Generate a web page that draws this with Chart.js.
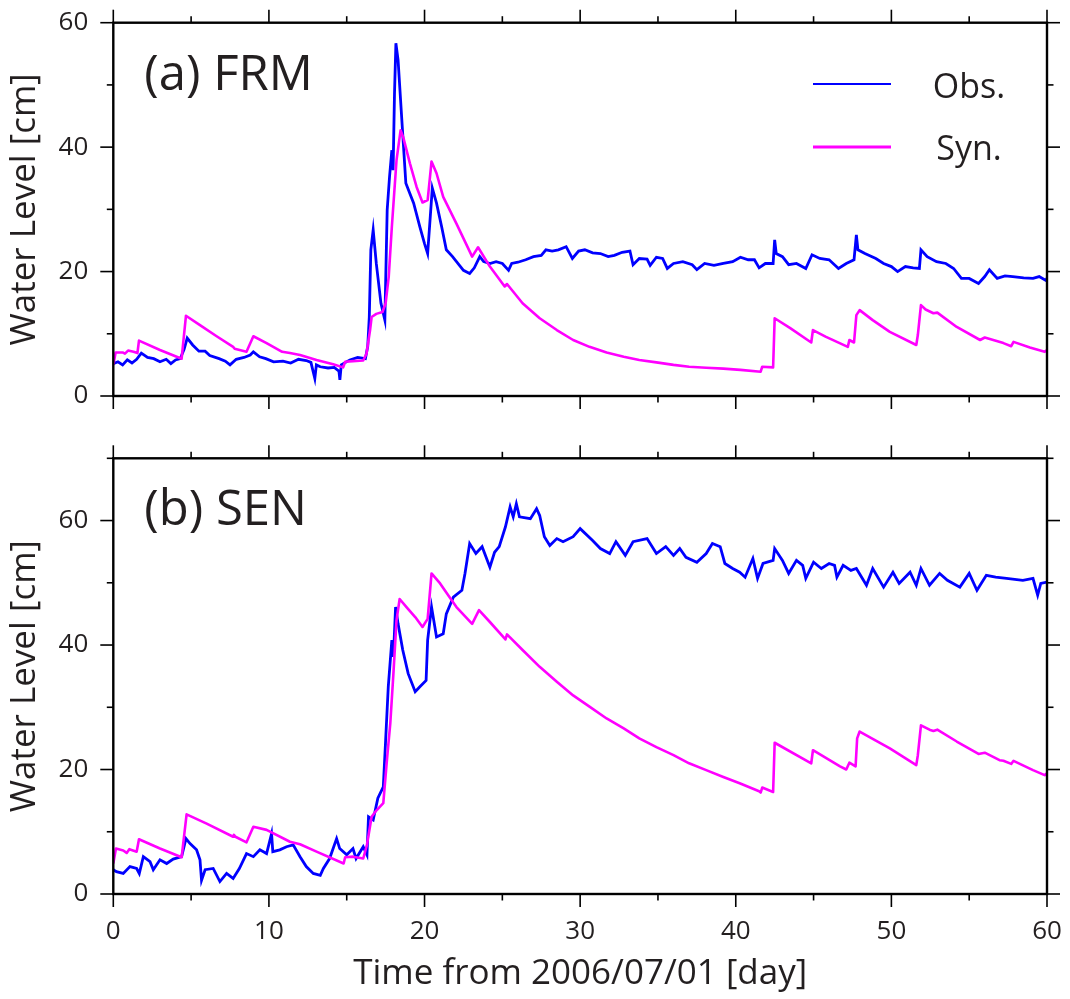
<!DOCTYPE html>
<html><head><meta charset="utf-8">
<script src="https://cdn.jsdelivr.net/npm/chart.js@4.4.1/dist/chart.umd.min.js"></script>
<style>
html,body{margin:0;padding:0;background:#fff;}
#wrap{position:relative;width:1070px;height:999px;overflow:hidden;}
canvas{position:absolute;left:0;}
#c1{top:0;} #c2{top:430px;}
</style></head><body>
<div id="wrap"><canvas id="c1" width="1070" height="430"></canvas><canvas id="c2" width="1070" height="569"></canvas></div>
<script>
// ---- data (day, water level cm) ----
const frmObsDay = [0,0.3,0.6,0.9,1.2,1.5,1.8,2.2,2.6,3.0,3.4,3.7,4.0,4.3,4.55,4.75,5.1,5.5,5.9,6.2,6.8,7.2,7.5,7.9,8.4,8.8,9.0,9.4,9.8,10.3,10.9,11.4,11.9,12.4,12.7,12.95,13.05,13.3,13.8,14.2,14.5,14.56,14.65,15.2,15.7,16.2,16.35,16.45,16.55,16.7,16.9,17.2,17.45,17.6,17.75,17.9,17.98,18.07,18.16,18.3,18.5,18.8,19.3,19.7,20.0,20.2,20.5,20.77,21.1,21.4,21.8,22.5,22.9,23.2,23.55,23.8,24.2,24.6,25.0,25.4,25.6,26.0,26.5,27.0,27.5,27.8,28.2,28.6,29.1,29.5,29.9,30.3,30.8,31.3,31.8,32.2,32.7,33.2,33.4,33.8,34.3,34.5,34.9,35.3,35.6,36.0,36.6,37.2,37.5,38.0,38.6,39.2,39.8,40.3,40.8,41.2,41.5,41.9,42.4,42.5,42.6,43.0,43.4,43.9,44.5,44.9,45.4,46.0,46.6,47.1,47.6,47.75,47.85,48.3,49.0,49.5,50.0,50.4,50.9,51.4,51.8,51.9,52.3,52.9,53.5,54.0,54.5,55.0,55.6,56.0,56.3,56.8,57.3,57.8,58.5,59.1,59.5,59.9,60.0];
const frmObsVal = [5.2,5.5,5.0,5.8,5.3,5.9,6.9,6.2,6.0,5.5,5.9,5.2,5.8,6.0,7.5,9.3,8.2,7.2,7.2,6.5,6.0,5.6,5.0,5.9,6.2,6.6,7.1,6.3,6.0,5.5,5.6,5.3,5.9,5.7,5.4,2.8,5.0,4.7,4.5,4.6,4.0,2.6,5.0,5.8,6.2,6.0,8.0,12.7,23.5,26.7,21.3,14.9,12.2,29.9,35.2,39.5,36.3,48.6,56.7,54.0,46.0,34.2,31.0,27.2,24.5,22.9,33.4,31.0,27.2,23.5,22.4,20.2,19.7,20.6,22.4,21.6,21.3,21.6,21.3,20.2,21.3,21.5,21.9,22.4,22.6,23.5,23.3,23.5,24.0,22.1,23.3,23.5,23.0,22.9,22.4,22.6,23.1,23.3,21.1,22.1,22.0,21.0,22.3,22.1,20.5,21.3,21.6,21.1,20.3,21.3,21.0,21.3,21.6,22.3,21.9,21.9,20.6,21.3,21.3,25.1,22.9,22.4,21.1,21.3,20.5,22.7,22.1,21.9,20.5,21.3,21.9,25.9,23.5,22.9,22.1,21.3,20.8,20.0,20.8,20.6,20.5,23.5,22.4,21.6,21.3,20.5,18.9,18.9,18.1,19.2,20.3,18.9,19.3,19.2,19.0,18.9,19.2,18.6,18.9];

const frmSynDay = [0,0.15,0.6,0.75,0.95,1.3,1.55,1.65,3.0,4.39,4.67,5.57,6.64,7.7,7.8,8.56,9.0,9.85,10.85,11.35,12.0,13.06,14.13,14.77,14.9,15.4,16.06,16.27,16.5,16.6,16.9,17.3,17.5,17.7,17.9,18.2,18.46,18.63,19.06,19.49,19.87,20.2,20.45,20.77,21.2,22.05,23.06,23.44,24.2,25.15,25.3,26.3,27.4,28.5,29.55,30.6,31.7,32.8,33.8,34.9,36.0,37.0,38.1,39.2,40.3,41.6,41.7,42.4,42.5,43.5,44.85,44.96,45.8,47.2,47.3,47.6,47.75,47.96,48.8,49.9,51.6,51.7,51.9,52.2,52.7,52.95,54.2,55.7,56.0,57.2,57.7,57.85,58.9,59.85,60.0];
const frmSynVal = [5.0,7.0,7.0,6.8,7.3,7.1,6.9,8.9,7.4,6.0,12.9,11.4,9.6,7.9,7.6,7.1,9.6,8.5,7.1,6.9,6.6,5.8,5.1,4.6,5.5,5.6,5.7,6.8,10.6,12.7,13.2,13.5,14.9,19.2,27.2,37.9,42.7,41.6,37.4,33.6,31.1,31.5,37.7,35.8,32.0,27.7,22.4,23.9,20.8,17.6,18.0,14.9,12.5,10.6,9.0,7.9,7.0,6.3,5.8,5.4,5.0,4.7,4.55,4.4,4.2,3.9,4.7,4.6,12.5,10.9,8.6,10.6,9.5,7.9,9.0,8.6,13.0,13.8,12.2,10.3,8.2,9.8,14.6,13.9,13.3,13.4,11.1,9.0,9.4,8.5,8.0,8.7,7.8,7.1,7.4];

const senObsDay = [0,0.2,0.64,1.07,1.5,1.67,1.93,2.36,2.57,3.0,3.43,3.85,4.39,4.67,4.93,5.35,5.57,5.67,5.9,6.42,6.85,7.28,7.7,8.1,8.56,9.0,9.42,9.85,10.17,10.25,10.7,11.13,11.56,12.0,12.4,12.85,13.3,13.5,13.9,14.35,14.55,15.0,15.4,15.6,16.06,16.3,16.4,16.7,17.0,17.35,17.5,17.67,17.9,18.0,18.14,18.3,18.6,18.95,19.4,19.7,20.1,20.2,20.45,20.77,21.2,21.4,21.85,22.4,22.6,22.9,23.3,23.7,24.2,24.5,24.8,25.2,25.5,25.7,25.9,26.1,26.8,27.2,27.4,27.7,28.05,28.5,28.9,29.55,30.0,30.8,31.3,31.9,32.3,32.9,33.4,34.3,34.9,35.5,36.0,36.4,36.8,37.5,38.1,38.5,39.0,39.3,39.8,40.25,40.6,41.1,41.4,41.75,42.4,42.5,43.0,43.4,43.9,44.3,44.5,45.0,45.5,46.0,46.35,46.5,46.9,47.4,47.75,48.4,48.8,49.5,50.1,50.5,51.2,51.6,51.9,52.45,53.1,53.6,54.4,55.0,55.5,56.1,56.7,57.4,58.45,59.1,59.4,59.6,60.0];
const senObsVal = [3.9,3.6,3.3,4.4,4.1,3.3,6.0,5.2,3.9,5.5,4.9,5.6,6.0,8.9,8.1,7.1,5.5,2.2,3.9,4.1,2.0,3.3,2.5,4.1,6.5,6.0,7.1,6.5,9.7,6.8,7.1,7.6,7.9,6.0,4.4,3.3,3.0,4.1,5.7,8.9,7.3,6.3,7.3,5.7,7.6,6.3,12.4,11.9,15.4,17.2,24.7,33.3,40.8,38.1,46.1,43.4,39.2,35.4,32.5,33.3,34.3,40.8,46.1,41.3,41.8,45.0,47.7,48.8,51.5,56.3,54.7,55.8,52.5,54.9,55.8,59.0,62.2,60.6,62.7,60.6,60.3,61.9,60.8,57.4,56.0,57.1,56.6,57.4,58.7,56.8,55.5,54.7,56.6,54.4,56.6,57.1,54.7,55.8,54.4,55.5,54.1,53.3,54.7,56.3,55.8,53.1,52.3,51.7,50.9,53.9,50.7,53.1,53.6,55.5,53.6,51.5,53.6,52.8,50.7,53.3,52.3,53.1,52.8,50.9,52.8,52.0,52.3,49.6,52.3,49.3,51.7,49.9,51.7,49.6,52.3,49.6,51.5,50.4,49.3,51.5,48.8,51.2,50.9,50.7,50.4,50.7,48.0,49.9,50.1];

const senSynDay = [0,0.17,0.64,0.86,1.03,1.5,1.65,3.0,4.39,4.71,6.0,7.7,7.75,7.85,8.56,9.0,9.85,11.35,12.0,13.06,14.8,14.9,15.4,16.06,16.3,16.6,16.9,17.35,17.6,17.8,18.0,18.2,18.4,18.84,19.4,19.87,20.2,20.45,21.0,21.6,22.05,23.06,23.5,24.2,25.2,25.3,26.3,27.4,28.5,29.55,30.6,31.7,32.8,33.8,34.9,36.0,37.0,38.1,39.2,40.25,41.5,41.6,41.7,42.4,42.5,44.85,44.96,46.7,47.1,47.3,47.7,47.8,47.96,49.9,51.6,51.7,51.9,52.45,52.7,52.95,54.2,55.6,56.0,56.95,57.2,57.7,57.85,59.1,59.85,60.0];
const senSynVal = [4.9,7.3,7.0,6.6,7.2,6.8,8.8,7.3,5.9,12.8,11.3,9.2,9.5,9.2,8.3,10.8,10.3,8.4,8.0,6.8,4.9,5.9,6.0,5.7,7.9,12.4,13.4,14.6,22.0,27.4,35.4,44.0,47.4,46.1,44.5,42.9,44.2,51.5,49.9,47.7,46.1,43.4,45.6,43.7,40.9,41.7,39.2,36.5,34.1,31.9,30.1,28.2,26.6,25.0,23.6,22.3,21.0,19.9,18.8,17.8,16.5,16.3,17.1,16.4,24.3,21.0,23.1,20.5,20.0,21.1,20.5,25.0,26.1,23.4,20.7,22.3,27.1,26.4,26.2,26.4,24.5,22.5,22.7,21.5,21.4,20.9,21.4,19.9,19.1,19.4];

const seriesLabels = ['Obs.', 'Syn.'];
const panelLabels = ['(a) FRM', '(b) SEN'];
const xTitle = 'Time from 2006/07/01 [day]';
const yTitle = 'Water Level [cm]';

// ---- styles ----
const TXT = '#231f20';
const FONT = '"Open Sans", "Noto Sans", sans-serif';
const OBS_COLOR = '#0000ff';
const SYN_COLOR = '#ff00ff';
const HIDDEN = 'rgba(0,0,0,0)';

const pts = (d, v) => d.map((x, i) => ({x, y: v[i]}));

function line(ctx, x1, y1, x2, y2) { ctx.beginPath(); ctx.moveTo(x1, y1); ctx.lineTo(x2, y2); ctx.stroke(); }

const framePlugin = {
  id: 'frame',
  afterDraw(chart, args, opts) {
    const {ctx, chartArea: {left, right, top, bottom}} = chart;
    const x = chart.scales.x, y = chart.scales.y;
    ctx.save();
    ctx.strokeStyle = '#000';
    ctx.lineWidth = 1.6;
    for (let v = y.min; v <= y.max + 1e-9; v += 10) {
      const py = y.getPixelForValue(v);
      const len = (v % 20 === 0) ? 13 : 6.5;
      line(ctx, left - len, py, left, py);
      line(ctx, right, py, right + len, py);
    }
    for (let d = x.min; d <= x.max + 1e-9; d += 5) {
      const px = x.getPixelForValue(d);
      const len = (d % 10 === 0) ? 13 : 6.5;
      line(ctx, px, top - len, px, top);
      line(ctx, px, bottom, px, bottom + len);
    }
    ctx.lineWidth = 2.4;
    ctx.strokeRect(left, top, right - left, bottom - top);
    // panel label
    ctx.fillStyle = TXT;
    ctx.font = '49px ' + FONT;
    ctx.textAlign = 'left';
    ctx.textBaseline = 'alphabetic';
    ctx.fillText(opts.label, left + 31, top + opts.labelDy);
    // legend (top panel only)
    if (opts.legend) {
      const rows = [{ly: 84, ty: 98}, {ly: 147, ty: 160}];
      chart.data.datasets.forEach((ds, i) => {
        ctx.strokeStyle = ds.borderColor;
        ctx.lineWidth = i === 0 ? 2 : 3;
        line(ctx, 813, rows[i].ly, 891, rows[i].ly);
        ctx.font = '34px ' + FONT;
        ctx.textAlign = 'center';
        ctx.fillStyle = TXT;
        ctx.fillText(ds.label, 969, rows[i].ty);
      });
    }
    ctx.restore();
  }
};

function makeChart(canvasId, obsD, obsV, synD, synV, yMax, opts) {
  const tickFont = {family: FONT, size: 26};
  const titleFont = {family: FONT, size: 35};
  return new Chart(document.getElementById(canvasId), {
    type: 'line',
    data: {
      datasets: [
        {label: seriesLabels[0], data: pts(obsD, obsV), borderColor: OBS_COLOR, borderWidth: 2.8, pointRadius: 0, tension: 0, order: 1, borderJoinStyle: 'miter'},
        {label: seriesLabels[1], data: pts(synD, synV), borderColor: SYN_COLOR, borderWidth: 2.6, pointRadius: 0, tension: 0, order: 0, borderJoinStyle: 'round'}
      ]
    },
    options: {
      responsive: false,
      animation: false,
      events: [],
      layout: {padding: {top: opts.padTop, right: 23, bottom: opts.padBottom, left: 0}},
      plugins: {legend: {display: false}, tooltip: {enabled: false},
        frame: {label: opts.label, labelDy: opts.labelDy, legend: opts.legend}},
      scales: {
        x: {
          type: 'linear', min: 0, max: 60, display: opts.showX,
          grid: {display: true, drawOnChartArea: false, drawTicks: true, tickLength: 22, tickColor: HIDDEN}, border: {display: false},
          ticks: {stepSize: 10, font: tickFont, color: TXT, padding: 0, maxRotation: 0},
          title: {display: true, text: xTitle, font: titleFont, color: TXT, padding: {top: 0, bottom: 4}},
          afterFit: (s) => { s.height = opts.xHeight; }
        },
        y: {
          min: 0, max: yMax,
          grid: {display: true, drawOnChartArea: false, drawTicks: true, tickLength: 25, tickColor: HIDDEN}, border: {display: false},
          ticks: {stepSize: 20, font: tickFont, color: TXT, padding: 0, includeBounds: false},
          title: {display: true, text: yTitle, font: titleFont, color: TXT, padding: {top: 4, bottom: 0}},
          afterFit: (s) => { s.width = 113.3; }
        }
      }
    },
    plugins: [framePlugin]
  });
}

makeChart('c1', frmObsDay, frmObsVal, frmSynDay, frmSynVal, 60,
  {padTop: 22.7, padBottom: 34, showX: false, xHeight: 0, label: panelLabels[0], labelDy: 67, legend: true});
makeChart('c2', senObsDay, senObsVal, senSynDay, senSynVal, 70,
  {padTop: 28.3, padBottom: 0, showX: true, xHeight: 105, label: panelLabels[1], labelDy: 67, legend: false});
</script>
</body></html>
